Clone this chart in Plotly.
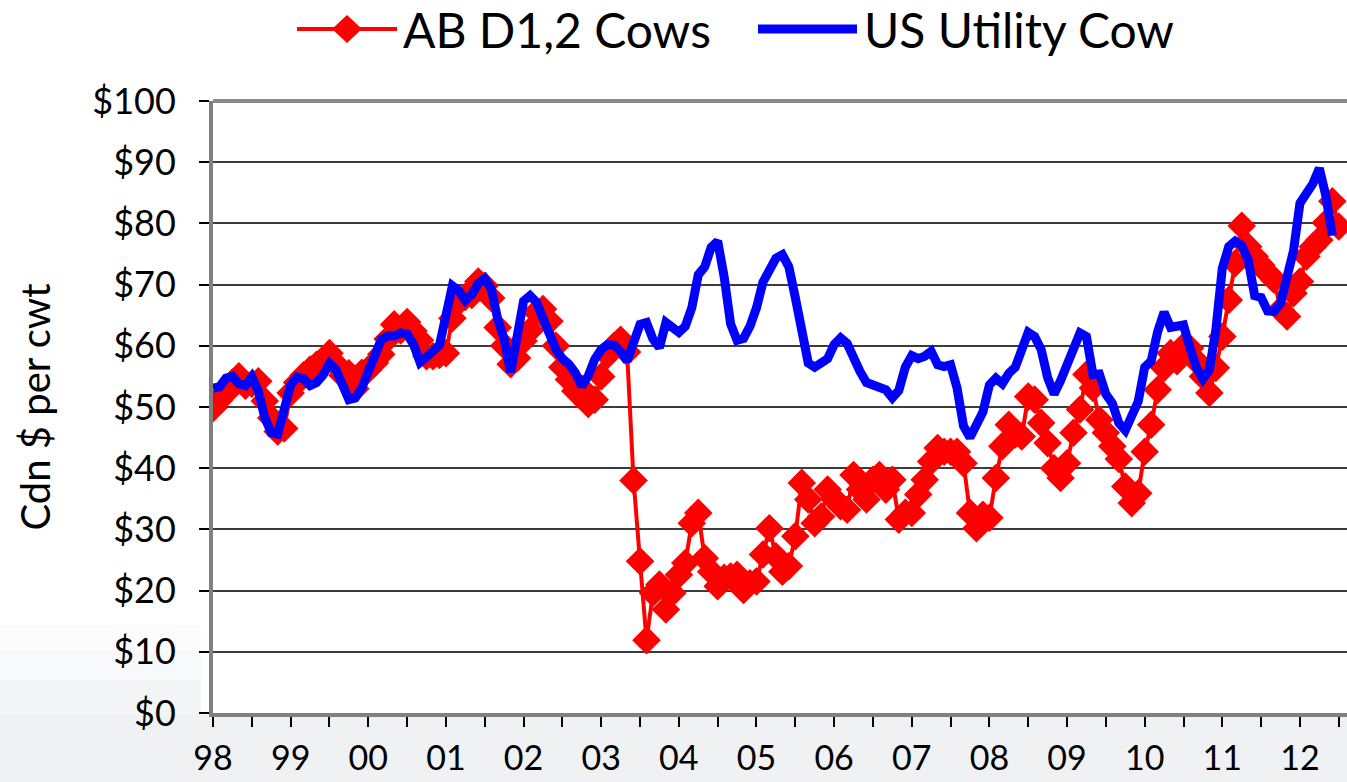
import plotly.graph_objects as go
import pandas as pd

# ---------------- data ----------------
months = pd.date_range("1998-01-01", periods=175, freq="MS").strftime("%Y-%m").tolist()

ab_d12_cows = [
    49.8, 51.2, 52.3, 54.0, 55.0, 53.5, 53.8, 54.2, 51.0, 48.2, 46.0, 46.5,   # 1998
    52.3, 54.0, 55.2, 56.1, 56.9, 57.7, 58.8, 57.0, 55.2, 55.5, 53.0, 55.6,   # 1999
    56.1, 57.2, 58.6, 61.1, 63.5, 62.5, 63.9, 62.4, 60.9, 58.3, 58.3, 58.5,   # 2000
    58.8, 64.5, 67.2, 68.0, 68.3, 70.5, 69.8, 67.8, 63.0, 60.0, 57.0, 58.0,   # 2001
    60.8, 62.5, 65.5, 66.0, 64.0, 60.0, 56.5, 54.5, 52.6, 53.0, 50.5, 51.2,   # 2002
    55.0, 58.5, 60.0, 61.0, 59.0, 38.0, 24.8, 11.9, 19.6, 21.0, 16.9, 19.6,   # 2003
    22.6, 24.5, 31.0, 32.7, 25.3, 23.1, 20.7, 22.1, 22.3, 22.6, 20.1, 21.2,   # 2004
    21.5, 25.9, 30.2, 25.6, 23.1, 24.0, 28.9, 37.6, 34.9, 31.0, 32.1, 36.5,   # 2005
    35.0, 33.8, 33.2, 38.9, 36.5, 34.9, 38.1, 38.9, 36.5, 38.1, 31.6, 32.7,   # 2006
    32.7, 35.7, 38.1, 41.1, 43.3, 42.7, 42.7, 42.7, 40.8, 32.7, 30.2, 32.4,   # 2007
    31.9, 38.4, 43.6, 47.1, 45.5, 45.2, 51.7, 51.2, 47.4, 44.1, 40.0, 38.4,   # 2008
    40.8, 45.8, 49.6, 55.3, 53.1, 47.9, 45.8, 43.6, 41.5, 37.0, 34.3, 35.9,   # 2009
    42.7, 47.1, 52.8, 56.4, 58.8, 57.5, 59.9, 59.6, 57.5, 55.0, 52.3, 56.4,   # 2010
    61.5, 67.5, 73.5, 79.6, 76.2, 74.6, 73.2, 71.9, 70.8, 65.9, 64.8, 68.6,   # 2011
    70.5, 74.6, 76.2, 77.3, 80.1, 83.6, 79.5,                                 # 2012
]

us_utility_cow = [
    53.1, 53.3, 54.7, 55.0, 53.8, 53.5, 54.9, 52.6, 48.3, 45.8, 45.6, 50.3,   # 1998
    53.6, 54.9, 54.6, 53.5, 54.0, 55.2, 57.1, 56.1, 53.6, 51.2, 51.5, 53.1,   # 1999
    55.8, 58.8, 61.0, 61.6, 61.6, 62.1, 61.9, 60.2, 57.3, 58.2, 59.1, 60.1,   # 2000
    64.9, 69.8, 69.0, 67.4, 68.4, 70.2, 71.0, 69.3, 64.4, 61.1, 55.7, 61.8,   # 2001
    67.3, 68.2, 67.1, 64.5, 61.7, 59.4, 57.9, 57.0, 55.6, 53.4, 55.1, 57.8,   # 2002
    59.4, 60.2, 60.1, 59.1, 57.5, 60.1, 63.5, 63.8, 61.1, 59.7, 63.8, 63.0,   # 2003
    62.2, 63.2, 66.2, 71.6, 72.9, 76.1, 77.1, 71.3, 63.6, 60.9, 61.2, 63.2,   # 2004
    66.2, 70.4, 72.1, 74.3, 74.9, 72.9, 67.9, 63.3, 57.2, 56.5, 57.0, 57.9,   # 2005
    60.2, 61.3, 60.4, 57.8, 55.8, 54.0, 53.5, 53.4, 52.8, 51.5, 52.7, 56.5,   # 2006
    58.4, 57.9, 58.3, 59.1, 56.9, 56.6, 56.9, 53.1, 46.9, 45.0, 47.4, 49.2,   # 2007
    53.6, 54.7, 53.8, 55.5, 56.5, 59.0, 62.2, 61.5, 59.4, 54.8, 52.1, 54.3,   # 2008
    56.9, 58.9, 62.1, 61.5, 55.3, 55.4, 52.1, 50.6, 47.4, 46.2, 48.3, 50.9,   # 2009
    56.5, 57.5, 62.3, 65.5, 63.0, 63.2, 63.4, 59.7, 56.4, 54.6, 56.1, 62.6,   # 2010
    72.7, 76.2, 77.1, 76.4, 74.0, 68.2, 67.9, 65.7, 65.6, 67.0, 71.0, 75.5,   # 2011
    83.3, 85.0, 86.5, 89.0, 84.5, 78.0,                                       # 2012
]

year_labels = ["98", "99", "00", "01", "02", "03", "04", "05",
               "06", "07", "08", "09", "10", "11", "12"]
y_tick_values = [0, 10, 20, 30, 40, 50, 60, 70, 80, 90, 100]
y_tick_labels = ["$0", "$10", "$20", "$30", "$40", "$50",
                 "$60", "$70", "$80", "$90", "$100"]
series_names = ["AB D1,2 Cows", "US Utility Cow"]

# ---------------- layout constants ----------------
W, H = 1347, 782
L, R, T, B = 213, 0, 101, 69
PW, PH = W - L - R, H - T - B
FONT = "Lato, 'Open Sans', sans-serif"
RED, BLUE = "#ff0000", "#0000ff"


def px(xp):
    return (xp - L) / PW


def py(yp):
    return (H - B - yp) / PH


tick_months = months[::6]
tick_text = [year_labels[k // 2] if k % 2 == 0 else "" for k in range(len(tick_months))]

fig = go.Figure()
fig.add_trace(go.Scatter(
    x=months[:len(ab_d12_cows)], y=ab_d12_cows, name=series_names[0],
    mode="lines+markers",
    line=dict(color=RED, width=4),
    marker=dict(symbol="diamond", size=22, color=RED, line=dict(width=0)),
))
fig.add_trace(go.Scatter(
    x=months[:len(us_utility_cow)], y=us_utility_cow, name=series_names[1],
    mode="lines",
    line=dict(color=BLUE, width=9),
))

shapes = []
# faint photo-like background in the lower margins
bands = [(H, H - B + 2, 0, W, 0.40), (H - B + 2, 680, 0, L - 12, 0.30),
         (680, 650, 0, L - 12, 0.18), (650, 625, 0, L - 12, 0.08)]
for y0, y1, x0, x1, a in bands:
    shapes.append(dict(type="rect", xref="paper", yref="paper", layer="below",
                       x0=px(x0), x1=px(x1), y0=py(y0), y1=py(y1),
                       fillcolor=f"rgba(214,220,226,{a})", line=dict(width=0)))
# top border of plot area
shapes.append(dict(type="line", xref="paper", yref="paper", layer="above",
                   x0=0, x1=1, y0=1, y1=1, line=dict(color="#8a8a8a", width=4)))
# manual legend
LEG_Y = 29
shapes.append(dict(type="line", xref="paper", yref="paper",
                   x0=px(297), x1=px(397), y0=py(LEG_Y), y1=py(LEG_Y),
                   line=dict(color=RED, width=4)))
shapes.append(dict(type="path", xref="paper", yref="paper",
                   xsizemode="pixel", ysizemode="pixel",
                   xanchor=px(347), yanchor=py(LEG_Y),
                   path="M-15,0 L0,14 L15,0 L0,-14 Z",
                   fillcolor=RED, line=dict(width=0)))
shapes.append(dict(type="line", xref="paper", yref="paper",
                   x0=px(758), x1=px(857), y0=py(LEG_Y), y1=py(LEG_Y),
                   line=dict(color=BLUE, width=9)))

annotations = [
    dict(text=series_names[0], xref="paper", yref="paper", x=px(401), y=py(LEG_Y + 1),
         xanchor="left", yanchor="middle", showarrow=False,
         font=dict(family=FONT, size=48, color="black")),
    dict(text=series_names[1], xref="paper", yref="paper", x=px(862), y=py(LEG_Y + 1),
         xanchor="left", yanchor="middle", showarrow=False,
         font=dict(family=FONT, size=48, color="black")),
]

fig.update_layout(
    width=W, height=H, autosize=False,
    margin=dict(l=L, r=R, t=T, b=B, pad=0),
    paper_bgcolor="white", plot_bgcolor="white",
    showlegend=False,
    font=dict(family=FONT, color="black"),
    shapes=shapes, annotations=annotations,
    xaxis=dict(
        type="category", range=[0, PW / 6.47],
        tickmode="array", tickvals=tick_months, ticktext=tick_text,
        ticks="outside", ticklen=10, tickwidth=2, tickcolor="black",
        showgrid=False, zeroline=False,
        showline=True, linecolor="#808080", linewidth=4,
        tickfont=dict(family=FONT, size=34, color="black"),
        ticklabelstandoff=2,
        tickangle=0, automargin=False,
    ),
    yaxis=dict(
        range=[0, 100], tickmode="array",
        tickvals=y_tick_values, ticktext=y_tick_labels,
        ticks="outside", ticklen=10, tickwidth=2, tickcolor="black",
        showgrid=True, gridcolor="#3c3c3c", gridwidth=2,
        zeroline=False,
        showline=True, linecolor="#808080", linewidth=4,
        tickfont=dict(family=FONT, size=36, color="black"),
        ticklabelstandoff=16, automargin=False,
        title=dict(text="Cdn $ per cwt", standoff=30,
                   font=dict(family=FONT, size=40, color="black")),
    ),
)

fig.write_html("out.html",
               config={"displayModeBar": False},
               post_script="document.body.style.margin='0';document.body.style.overflow='hidden';")
